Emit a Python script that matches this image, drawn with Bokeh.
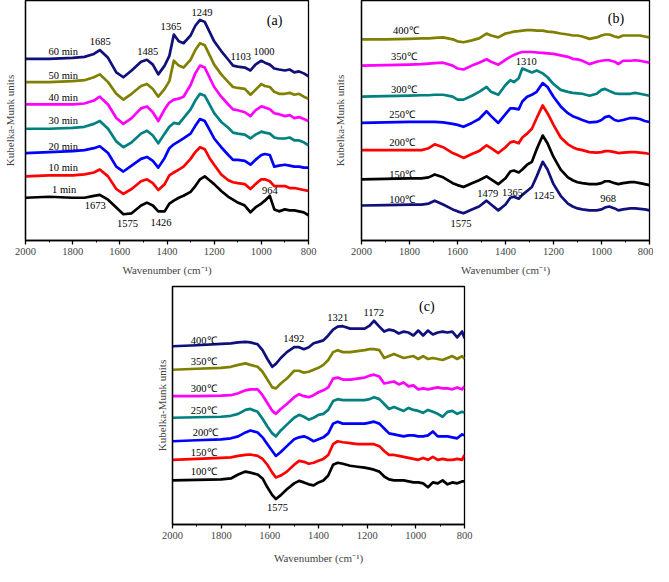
from bokeh.plotting import figure
from bokeh.layouts import column, row, Spacer
from bokeh.models import Range1d, FixedTicker, ColumnDataSource
from bokeh.embed import file_html
from bokeh.resources import INLINE
from bokeh.core.properties import value

FONT = "Liberation Serif"

x_ticks = [2000, 1800, 1600, 1400, 1200, 1000, 800]
x_minor = [1900, 1700, 1500, 1300, 1100, 900]

# ---------------- panel (a): time series ----------------
wn_a = [2000, 1900, 1800, 1750, 1710, 1685, 1650, 1615, 1585, 1550, 1510, 1485, 1460, 1437, 1410,
        1390, 1371, 1350, 1330, 1300, 1280, 1260, 1240, 1220, 1200, 1170, 1140, 1120, 1100, 1070,
        1046, 1025, 1000, 985, 964, 945, 925, 900, 880, 860, 840, 820, 800]
a_60min = [189, 189, 190, 191, 194, 198, 190, 175, 170, 177, 186, 188, 183, 173, 182, 192, 214, 207, 205, 213,
           223, 229, 227, 217, 207, 197, 188, 182, 181, 180, 177, 183, 187, 185, 183, 179, 178, 177, 178, 175,
           176, 174, 171]
a_50min = [165, 165, 166, 167, 170, 173, 165, 153, 147, 153, 161, 163, 158, 150, 158, 166, 187, 182, 180, 188,
           198, 205, 203, 193, 183, 173, 165, 160, 159, 158, 152, 157, 163, 161, 160, 155, 153, 153, 154, 152,
           153, 150, 148]
a_40min = [142, 142, 142, 143, 146, 150, 142, 128, 122, 128, 138, 140, 134, 125, 137, 144, 147, 148, 150, 162,
           174, 182, 180, 170, 160, 150, 142, 137, 136, 134, 130, 136, 140, 139, 137, 133, 132, 130, 131, 128,
           129, 127, 125]
a_30min = [117, 117, 118, 119, 122, 125, 117, 104, 98, 103, 112, 115, 110, 102, 112, 119, 123, 122, 128, 137,
           146, 153, 151, 142, 133, 124, 118, 113, 112, 111, 107, 111, 114, 113, 112, 108, 107, 107, 108, 105,
           105, 103, 100]
a_20min = [92, 93, 94, 95, 97, 99, 92, 78, 73, 79, 86, 88, 84, 77, 87, 97, 101, 104, 107, 112,
           120, 127, 125, 116, 107, 98, 90, 85, 85, 84, 80, 85, 90, 91, 90, 78, 79, 80, 79, 78,
           78, 77, 77]
a_10min = [68, 69, 69, 70, 72, 75, 68, 55, 50, 55, 63, 65, 61, 54, 60, 69, 72, 75, 78, 86,
           93, 98, 96, 87, 80, 70, 64, 62, 61, 60, 55, 60, 65, 65, 63, 58, 58, 58, 56, 56,
           55, 54, 53]
a_1min = [46, 47, 46, 46, 48, 49, 44, 36, 29, 30, 38, 41, 38, 32, 32, 40, 43, 46, 48, 52,
          58, 65, 68, 64, 60, 53, 47, 44, 41, 38, 31, 36, 40, 43, 48, 34, 32, 34, 33, 33,
          32, 31, 28]
a_series = [("60 min", a_60min), ("50 min", a_50min), ("40 min", a_40min), ("30 min", a_30min),
            ("20 min", a_20min), ("10 min", a_10min), ("1 min", a_1min)]
a_colors = ["#10107a", "#808000", "#ff00ff", "#008080", "#0000ff", "#ff0000", "#000000"]
a_label_x = [1840, 1840, 1840, 1840, 1840, 1840, 1836]
a_label_y = [197, 172, 149, 126, 99, 77, 55]
a_peak_text = ["1685", "1485", "1365", "1249", "1103", "1000", "1673", "1575", "1426", "964"]
a_peak_x = [1683, 1482, 1383, 1252, 1087, 989, 1704, 1568, 1425, 964]
a_peak_y = [207, 197, 222, 237, 191, 197, 38, 20, 21, 53]

# ---------------- panel (b): temperature series ----------------
wn_b = [2000, 1900, 1800, 1750, 1720, 1695, 1660, 1620, 1600, 1575, 1540, 1510, 1479, 1460, 1430,
        1400, 1380, 1365, 1345, 1330, 1310, 1290, 1270, 1245, 1225, 1200, 1170, 1140, 1120, 1100,
        1080, 1050, 1020, 1000, 985, 968, 945, 930, 910, 880, 860, 840, 820, 800]
b_400 = [209, 209, 209.5, 210, 210, 210.5, 211, 209, 207, 206, 208, 210, 215, 213, 211, 215, 216, 217, 217.5, 218,
         218.5, 218.5, 218, 218, 217, 216.5, 215, 214, 213, 213, 212, 209.5, 211, 213, 214, 214, 212, 211, 213, 213,
         213, 213, 212, 211]
b_350 = [182, 182.5, 183, 183.5, 184, 184.5, 185, 182, 179, 178, 182, 185, 188.5, 186, 183, 188, 191, 193, 195, 196,
         196, 196, 195.5, 195, 194.5, 194, 192.5, 191, 189, 188.5, 187, 183.5, 186, 187, 187.5, 187.5, 186, 183.5, 187, 187,
         187.5, 187, 186, 185]
b_300 = [150, 150.5, 151, 151.5, 151.5, 152, 152, 150, 147, 147, 151, 155, 160, 155, 152, 162, 167, 165, 169, 179,
         177, 175, 177, 174, 170, 163, 157, 155, 154, 153.5, 153, 151, 153, 157, 158, 156, 153.5, 153, 153, 153,
         154, 153, 152, 151]
b_250 = [123, 123.5, 124, 124, 124, 124, 123.5, 122, 121, 119, 123, 127, 135, 130, 123, 132, 138, 138, 137, 145,
         150, 152, 155, 164, 160, 150, 140, 133, 130, 128, 126, 123.5, 124, 126, 129, 130, 126, 125, 126, 128,
         128, 127, 125, 124]
b_200 = [95, 95, 95, 95, 97, 101, 98, 92, 90, 87, 91, 94, 100, 97, 92, 98, 103, 104, 102, 108,
         112, 117, 128, 141, 133, 121, 108, 101, 98, 96, 95, 93, 92.5, 93, 94, 94, 93, 92, 92.5, 93,
         93, 92.5, 92, 91]
b_150 = [65, 65.5, 66, 66, 67, 70, 67, 61, 59, 57, 61, 64, 68, 65, 60, 66, 73, 74, 72, 75,
         80, 83, 96, 110, 102, 88, 75, 67, 64, 62, 61, 60, 60, 61, 63, 63, 61, 60, 61, 62,
         62, 61, 60, 59]
b_100 = [38, 38.5, 39, 39, 40, 43, 39, 34, 32, 30, 34, 37, 43, 39, 33, 39, 46, 47, 45, 49,
         53, 57, 68, 83, 75, 60, 48, 40, 37, 35, 34, 33, 33, 34, 36, 37, 35, 33, 34, 35,
         35, 34.5, 34, 33]
b_series = [("400℃", b_400), ("350℃", b_350), ("300℃", b_300), ("250℃", b_250),
            ("200℃", b_200), ("150℃", b_150), ("100℃", b_100)]
b_colors = ["#808000", "#ff00ff", "#008080", "#0000ff", "#ff0000", "#000000", "#10107a"]
b_label_x = [1815, 1823, 1823, 1831, 1831, 1831, 1831]
b_label_y = [218, 191, 157, 132, 103, 70, 44]
b_peak_text = ["1310", "1479", "1365", "1245", "968", "1575"]
b_peak_x = [1314, 1474, 1371, 1240, 972, 1585]
b_peak_y = [186, 50, 51, 48, 45, 20]

# ---------------- panel (c): temperature series ----------------
wn_c = [2000, 1900, 1800, 1760, 1730, 1700, 1680, 1650, 1630, 1610, 1590, 1575, 1555, 1530, 1500,
        1480, 1460, 1440, 1420, 1400, 1380, 1360, 1340, 1321, 1300, 1270, 1240, 1210, 1190, 1172,
        1150, 1130, 1110, 1090, 1070, 1050, 1030, 1010, 990, 970, 950, 930, 910, 890, 870, 850,
        830, 810, 800]
c_400 = [184, 185, 186.5, 187, 188, 188.5, 188, 186, 180, 171, 163, 166, 172, 178, 183, 183, 181, 183, 187, 188.5,
         190, 195, 201, 204, 204.5, 202, 202, 202, 205, 210, 204, 199, 201, 200, 197, 199, 198, 195, 200, 195,
         200, 196, 198, 199, 198, 199, 193, 199, 192]
c_350 = [160, 161, 162, 163, 165, 166.5, 165, 163, 158, 150, 142, 141, 146, 151, 159, 159, 157, 158, 160, 162,
         165, 170, 178, 180, 178, 178, 179, 180, 181, 181, 180, 172, 174, 176, 174, 172, 173, 174, 171, 174,
         171, 172, 171, 170, 172, 174, 171, 174, 171]
c_300 = [133, 133, 133.5, 134, 136, 139, 140, 140, 134, 126, 118, 115, 120, 125, 132, 135, 133, 132, 134, 137,
         139, 142, 151, 152, 150, 150, 151, 152, 154, 155, 153, 146, 147, 148, 145, 147, 143, 144, 140, 141,
         140, 141, 142, 141, 141, 140, 142, 140, 143]
c_250 = [111, 111.5, 112, 113, 115, 119, 120, 117, 110, 102, 95, 92, 98, 104, 111, 114, 112, 109, 111, 114,
         115, 119, 128, 130, 129, 129, 129, 129, 130, 132, 130, 125, 120, 122, 120, 118, 121, 119, 118, 116,
         119, 117, 115, 112, 117, 118, 115, 117, 116]
c_200 = [87, 88, 89, 90, 92, 96, 98, 96, 91, 84, 77, 72, 76, 82, 89, 91, 92, 90, 87, 89,
         91, 95, 105, 107, 105, 105, 105, 105, 106, 107, 105, 100, 95, 94, 93, 92, 93, 93, 92, 92,
         93, 97, 92, 92, 92, 91, 90, 94, 93]
c_150 = [68, 69, 70, 70.5, 72, 73, 73.5, 72, 69, 63, 55, 50, 52, 56, 63, 67, 66, 64, 65, 67,
         69, 73, 84, 87, 86, 85, 84, 84, 84, 84, 82, 77, 73, 73, 72, 71, 70, 69, 68, 70,
         68, 71, 68, 69, 68, 68, 69, 68, 73]
c_100 = [47, 47.5, 48, 49, 53, 56, 55, 53, 49, 40, 32, 28, 32, 38, 44, 46.5, 45, 43, 42, 45,
         47, 52, 63, 65, 64, 62, 61, 60, 59, 58, 56, 51, 48, 47, 47, 47, 46, 45, 45, 44,
         40, 45, 44, 47, 43, 45, 44, 46, 46]
c_series = [("400℃", c_400), ("350℃", c_350), ("300℃", c_300), ("250℃", c_250),
            ("200℃", c_200), ("150℃", c_150), ("100℃", c_100)]
c_colors = ["#10107a", "#808000", "#ff00ff", "#008080", "#0000ff", "#ff0000", "#000000"]
c_label_x = [1872, 1872, 1872, 1872, 1864, 1872, 1872]
c_label_y = [190, 168, 141, 118, 96, 76, 56]
c_peak_text = ["1492", "1321", "1172", "1575"]
c_peak_x = [1502, 1321, 1173, 1568]
c_peak_y = [192, 213, 218, 19]


def make_panel(width, height, mbl, mbr, mbt, y_end, ystand, xstand, wn, series, colors,
               lab_x, lab_y, pk_text, pk_x, pk_y, tag, tag_x, tag_y):
    p = figure(width=width, height=height, x_range=Range1d(2000, 800), y_range=Range1d(2, y_end),
               output_backend="svg", toolbar_location=None,
               min_border_left=mbl, min_border_right=mbr, min_border_top=mbt, min_border_bottom=30)
    p.background_fill_color = "white"
    p.border_fill_color = "white"
    p.grid.visible = False
    p.outline_line_color = "black"
    p.outline_line_width = 1.3
    p.outline_line_alpha = 1

    xa = p.xaxis[0]
    xa.ticker = FixedTicker(ticks=x_ticks, minor_ticks=x_minor)
    xa.axis_label = "Wavenumber (cm⁻¹)"
    xa.axis_label_text_font = FONT
    xa.axis_label_text_font_style = "normal"
    xa.axis_label_text_font_size = "11px"
    xa.axis_label_standoff = xstand
    xa.major_label_text_font = FONT
    xa.major_label_text_font_size = "10.5px"
    xa.major_label_standoff = 3
    xa.major_tick_in = 0
    xa.major_tick_out = 4
    xa.minor_tick_in = 0
    xa.minor_tick_out = 2
    xa.axis_line_color = "black"
    xa.axis_line_width = 1.3
    xa.major_tick_line_width = 1.3

    ya = p.yaxis[0]
    ya.ticker = FixedTicker(ticks=[], minor_ticks=[])
    ya.axis_label = "Kubelka-Munk units"
    ya.axis_label_text_font = FONT
    ya.axis_label_text_font_style = "normal"
    ya.axis_label_text_font_size = "11px"
    ya.axis_label_standoff = ystand
    ya.major_tick_out = 0
    ya.minor_tick_out = 0
    ya.axis_line_color = "black"
    ya.axis_line_width = 1.3

    for (name, vals), col in zip(series, colors):
        src = ColumnDataSource(dict(x=wn, y=vals))
        p.line("x", "y", source=src, line_color=col, line_width=2.7, line_join="round")

    lab_src = ColumnDataSource(dict(x=lab_x, y=lab_y, t=[s[0] for s in series]))
    p.text("x", "y", text="t", source=lab_src, text_font=value(FONT), text_font_size="10.5px",
           text_align="center", text_baseline="middle", text_color="black")
    pk_src = ColumnDataSource(dict(x=pk_x, y=pk_y, t=pk_text))
    p.text("x", "y", text="t", source=pk_src, text_font=value(FONT), text_font_size="10.5px",
           text_align="center", text_baseline="middle", text_color="black")
    tag_src = ColumnDataSource(dict(x=[tag_x], y=[tag_y], t=[tag]))
    p.text("x", "y", text="t", source=tag_src, text_font=value(FONT), text_font_size="14px",
           text_align="center", text_baseline="middle", text_color="black")
    return p


pa = make_panel(330, 278, 18, 22, 0, 249, 10, 6, wn_a, a_series, a_colors,
                a_label_x, a_label_y, a_peak_text, a_peak_x, a_peak_y, "(a)", 944, 228)
pb = make_panel(323, 278, 28, 4, 0, 249, 16, 6, wn_b, b_series, b_colors,
                b_label_x, b_label_y, b_peak_text, b_peak_x, b_peak_y, "(b)", 940, 230)
pc = make_panel(330, 288, 20, 18, 8, 245, 5, 10, wn_c, c_series, c_colors,
                c_label_x, c_label_y, c_peak_text, c_peak_x, c_peak_y, "(c)", 955, 225)

layout = column(row(pa, pb), row(Spacer(width=152, height=288), pc))

open("out.html", "w").write(file_html(layout, INLINE))
